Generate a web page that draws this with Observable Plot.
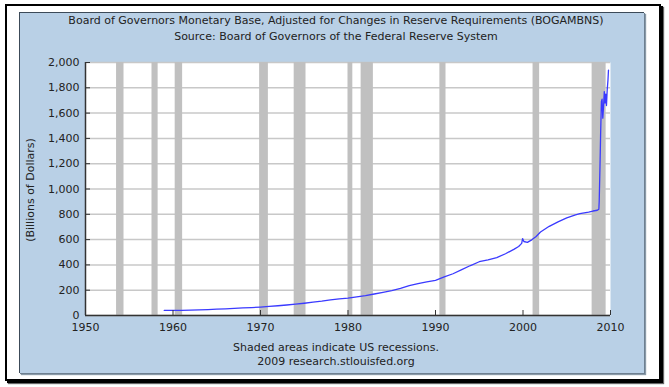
<!DOCTYPE html>
<html>
<head>
<meta charset="utf-8">
<script src="https://cdn.jsdelivr.net/npm/d3@7"></script>
<script src="https://cdn.jsdelivr.net/npm/@observablehq/plot@0.6"></script>
<style>
  html, body { margin: 0; padding: 0; background: #fff; }
  #wrap { position: relative; width: 669px; height: 387px; overflow: hidden; background: #fff;
          font-family: "DejaVu Sans", Verdana, sans-serif; color: #222; }
  #outer { position: absolute; left: 5px; top: 4px; width: 652px; height: 373px;
           border: 2px solid #000; box-shadow: 2px 2px 0 #000, 3px 3px 1px #666; }
  #panel { position: absolute; left: 19px; top: 12px; width: 624px; height: 360px;
           background: #b9d0e6; border-left: 1px solid #3c4a58; border-top: 1px solid #3c4a58;
           box-shadow: 1px 1px 0 #6d7f90, 2px 2px 1px #8a9aa8; }
  .txt { position: absolute; left: 0; width: 672px; text-align: center; font-size: 11px; }
  #title { top: 13px; line-height: 16px; }
  #foot { top: 341px; line-height: 14px; }
  #ylab { position: absolute; left: 30px; top: 190px; font-size: 11px; white-space: nowrap;
          transform: translate(-50%, -50%) rotate(-90deg); }
  #chart { position: absolute; left: 0; top: 0; }
</style>
</head>
<body>
<div id="wrap">
  <div id="outer"></div>
  <div id="panel"></div>
  <div id="title" class="txt">Board of Governors Monetary Base, Adjusted for Changes in Reserve Requirements (BOGAMBNS)<br>Source: Board of Governors of the Federal Reserve System</div>
  <div id="ylab">(Billions of Dollars)</div>
  <div id="chart"></div>
  <div id="foot" class="txt">Shaded areas indicate US recessions.<br>2009 research.stlouisfed.org</div>
</div>
<script>
// Monetary base (billions of dollars), decimal year
const years = [
  1959.0, 1960.0, 1961.0, 1962.0, 1963.0, 1964.0, 1965.0, 1966.0, 1967.0, 1968.0,
  1969.0, 1970.0, 1971.0, 1972.0, 1973.0, 1974.0, 1975.0, 1976.0, 1977.0, 1978.0,
  1979.0, 1980.0, 1981.0, 1982.0, 1983.0, 1984.0, 1985.0, 1986.0, 1987.0, 1988.0,
  1989.0, 1990.0, 1991.0, 1992.0, 1993.0, 1994.0, 1995.0, 1996.0, 1997.0, 1998.0,
  1999.0, 1999.5, 1999.85, 1999.95, 2000.1, 2000.5, 2001.0, 2001.5, 2002.0, 2003.0,
  2004.0, 2005.0, 2006.0, 2006.5, 2007.0, 2007.5, 2008.0, 2008.5, 2008.67, 2008.71,
  2008.79, 2008.87, 2008.96, 2009.04, 2009.12, 2009.21, 2009.29, 2009.37, 2009.46,
  2009.54, 2009.62, 2009.71, 2009.77
];
const values = [
  40, 41, 41, 43, 45, 47, 50, 53, 56, 60,
  63, 67, 72, 77, 83, 90, 97, 105, 113, 123,
  132, 138, 148, 157, 170, 183, 197, 214, 236, 252,
  266, 278, 305, 330, 362, 395, 425, 440, 458, 488,
  525, 545, 570, 608, 585, 578, 598, 625, 660, 705,
  740, 772, 795, 805, 812, 818, 826, 832, 840, 905,
  1150, 1430, 1690, 1710, 1560, 1660, 1770, 1680, 1750,
  1660, 1780, 1860, 1940
];
// NBER recessions
const recStart = [1953.55, 1957.6, 1960.25, 1969.9, 1973.85, 1980.0, 1981.5, 1990.5, 2001.15, 2007.9];
const recEnd   = [1954.4, 1958.3, 1961.1, 1970.9, 1975.2, 1980.55, 1982.9, 1991.2, 2001.9, 2009.5];
const xTicks = [1950, 1960, 1970, 1980, 1990, 2000, 2010];
const yTicks = [0, 200, 400, 600, 800, 1000, 1200, 1400, 1600, 1800, 2000];

const series = years.map((y, i) => ({year: y, value: values[i]}));
const recessions = recStart.map((s, i) => ({start: s, end: recEnd[i]}));

const chart = Plot.plot({
  width: 669,
  height: 387,
  marginLeft: 85,
  marginRight: 59,
  marginTop: 62,
  marginBottom: 72,
  x: {domain: [xTicks[0], xTicks[xTicks.length - 1]]},
  y: {domain: [yTicks[0], yTicks[yTicks.length - 1]]},
  style: {background: "transparent", fontFamily: "DejaVu Sans, Verdana, sans-serif", fontSize: "11px", color: "#222", overflow: "visible"},
  marks: [
    Plot.frame({fill: "white", stroke: null}),
    Plot.gridY(yTicks, {stroke: "#c8c8c8", strokeOpacity: 1, strokeWidth: 1.5}),
    Plot.rect(recessions, {x1: "start", x2: "end", fill: "#c0c0c0"}),
    Plot.line(series, {x: "year", y: "value", stroke: "#3a3aff", strokeWidth: 1.3}),
    Plot.ruleX([xTicks[0]], {stroke: "#333", strokeWidth: 1.5}),
    Plot.ruleY([yTicks[0]], {stroke: "#333", strokeWidth: 1.5}),
    Plot.axisY({ticks: yTicks, tickSize: -5, tickPadding: 11, tickFormat: d3.format(","), label: null, stroke: "#333"}),
    Plot.axisX({ticks: xTicks, tickSize: -5, tickPadding: 13, tickFormat: d => String(d), label: null, stroke: "#333"})
  ]
});
document.getElementById("chart").appendChild(chart);
</script>
</body>
</html>
